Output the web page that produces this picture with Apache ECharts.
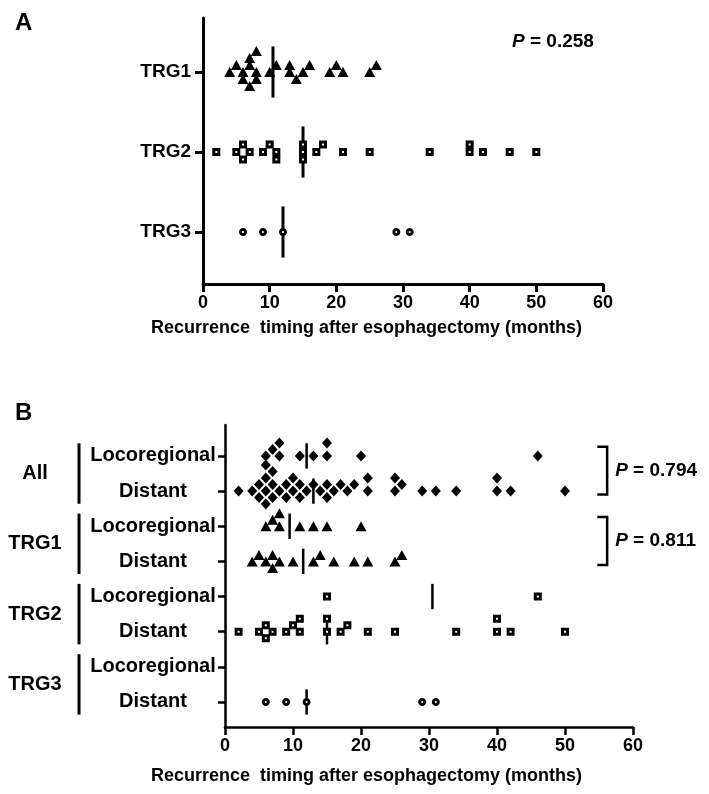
<!DOCTYPE html>
<html><head><meta charset="utf-8">
<script src="https://cdn.jsdelivr.net/npm/echarts@6/dist/echarts.min.js"></script>
<style>html,body{margin:0;padding:0;background:#fff}#c{width:709px;height:794px}</style>
</head><body><div id="c"></div>
<script>
// ---------- data ----------
const xTicks = [0, 10, 20, 30, 40, 50, 60];
const panelARows = ['TRG1', 'TRG2', 'TRG3'];
const groupLabels = ['All', 'TRG1', 'TRG2', 'TRG3'];
const siteLabels = ['Locoregional', 'Distant'];
const trg1Loco = [6, 7, 8, 8, 11, 13, 15, 20];
const trg1Distant = [4, 5, 6, 7, 7, 8, 10, 13, 14, 16, 19, 21, 25, 26];
const trg2Loco = [15, 46];
const trg2Distant = [2, 5, 6, 6, 7, 9, 10, 11, 11, 15, 15, 17, 18, 21, 25, 34, 40, 40, 42, 50];
const trg3Loco = [];
const trg3Distant = [6, 9, 12, 29, 31];
const pValueA = '0.258';
const pValuesB = ['0.794', '0.811'];
const xTitle = 'Recurrence  timing after esophagectomy (months)';

// ---------- derived ----------
const trg1All = trg1Loco.concat(trg1Distant);
const trg2All = trg2Loco.concat(trg2Distant);
const trg3All = trg3Loco.concat(trg3Distant);
const allLoco = trg1Loco.concat(trg2Loco, trg3Loco);
const allDistant = trg1Distant.concat(trg2Distant, trg3Distant);

function median(a) {
  if (!a.length) return null;
  const s = a.slice().sort((p, q) => p - q);
  const m = Math.floor(s.length / 2);
  return s.length % 2 ? s[m] : (s[m - 1] + s[m]) / 2;
}
// simple beeswarm: offsets computed from values (pixel space), returned in axis units
function swarm(values, row, xPx, yPx, step, minDist) {
  const s = values.slice().sort((p, q) => p - q);
  const placed = [], out = [];
  for (const v of s) {
    const x = v * xPx;
    for (let k = 0; k < 60; k++) {
      const off = k === 0 ? 0 : (k % 2 ? -1 : 1) * Math.ceil(k / 2) * step;
      if (placed.every(p => Math.hypot(p.x - x, p.y - off) >= minDist)) {
        placed.push({ x: x, y: off });
        out.push([v, row - off / yPx]);
        break;
      }
    }
  }
  return out;
}

// ---------- layout ----------
const FONT = 'Liberation Sans, Arial, sans-serif';
const gA = { left: 203, top: 18, width: 400, height: 266 };
const gB = { left: 225, top: 425, width: 408, height: 302 };
const yA = { min: -0.65, max: 2.675 };
const yB = { min: -0.712, max: 7.88 };
const pxA = gA.width / 60, pyA = gA.height / (yA.max - yA.min);
const pxB = gB.width / 60, pyB = gB.height / (yB.max - yB.min);

const rowsA = [2, 1, 0];
const rowsB = [7, 6, 5, 4, 3, 2, 1, 0];

const sym = {
  tri: { symbol: 'triangle', symbolSize: [11, 10], itemStyle: { color: '#000', opacity: 1 } },
  sq: { symbol: 'rect', symbolSize: 5, itemStyle: { color: '#fff', borderColor: '#000', borderWidth: 3, opacity: 1 } },
  cir: { symbol: 'circle', symbolSize: 5, itemStyle: { color: '#fff', borderColor: '#000', borderWidth: 3, opacity: 1 } },
  dia: { symbol: 'diamond', symbolSize: [10, 11], itemStyle: { color: '#000', opacity: 1 } }
};
function scat(ax, data, s) {
  return Object.assign({ type: 'scatter', xAxisIndex: ax, yAxisIndex: ax, data: data, z: 5, silent: true }, JSON.parse(JSON.stringify(s)));
}

const series = [];
// Panel A
series.push(scat(0, swarm(trg1All, rowsA[0], pxA, pyA, 7, 7), sym.tri));
series.push(scat(0, swarm(trg2All, rowsA[1], pxA, pyA, 7.5, 7.2), sym.sq));
series.push(scat(0, swarm(trg3All, rowsA[2], pxA, pyA, 7.5, 7.2), sym.cir));
// Panel B
const bSets = [[allLoco, sym.dia], [allDistant, sym.dia], [trg1Loco, sym.tri], [trg1Distant, sym.tri],
  [trg2Loco, sym.sq], [trg2Distant, sym.sq], [trg3Loco, sym.cir], [trg3Distant, sym.cir]];
bSets.forEach((b, i) => { if (b[0].length) series.push(scat(1, swarm(b[0], rowsB[i], pxB, pyB, 6.5, 7), b[1])); });

// medians
const medA = [trg1All, trg2All, trg3All].map((a, i) => [median(a), rowsA[i]]);
const medB = bSets.map((b, i) => [median(b[0]), rowsB[i]]).filter(d => d[0] !== null);
function medSeries(ax, data, half, lw) {
  return {
    type: 'custom', xAxisIndex: ax, yAxisIndex: ax, data: data, z: 2, silent: true,
    renderItem: (p, api) => {
      const a = api.coord([api.value(0), api.value(1) + half]);
      const b = api.coord([api.value(0), api.value(1) - half]);
      return { type: 'line', shape: { x1: a[0], y1: a[1], x2: b[0], y2: b[1] }, style: { stroke: '#000', lineWidth: lw } };
    }
  };
}
series.push(medSeries(0, medA, 0.32, 3));
series.push(medSeries(1, medB, 0.36, 2.5));

// group labels and bars (panel B, left of axis)
const groupData = groupLabels.map((g, i) => [0, (rowsB[2 * i] + rowsB[2 * i + 1]) / 2, i]);
series.push({
  type: 'custom', xAxisIndex: 1, yAxisIndex: 1, data: groupData, clip: false, silent: true,
  renderItem: (p, api) => {
    const c = api.coord([0, api.value(1)]);
    const t = api.coord([0, api.value(1) + 0.86]);
    const b = api.coord([0, api.value(1) - 0.86]);
    return {
      type: 'group', children: [
        { type: 'line', shape: { x1: c[0] - 146, y1: t[1], x2: c[0] - 146, y2: b[1] }, style: { stroke: '#000', lineWidth: 3 } },
        { type: 'text', x: c[0] - 190, y: c[1], style: { text: groupLabels[api.value(2)], font: 'bold 20px ' + FONT, fill: '#000', align: 'center', verticalAlign: 'middle' } }
      ]
    };
  }
});
// brackets with P values (panel B)
const bracketData = pValuesB.map((pv, i) => [56.2, rowsB[2 * i], rowsB[2 * i + 1], i]);
series.push({
  type: 'custom', xAxisIndex: 1, yAxisIndex: 1, data: bracketData, clip: false, silent: true,
  renderItem: (p, api) => {
    const top = api.coord([api.value(0), api.value(1) + 0.26]);
    const bot = api.coord([api.value(0), api.value(2) - 0.1]);
    const left = api.coord([api.value(0) - 1.45, 0])[0];
    const mid = (top[1] + bot[1]) / 2;
    return {
      type: 'group', children: [
        { type: 'polyline', shape: { points: [[left, top[1]], [top[0], top[1]], [top[0], bot[1]], [left, bot[1]]] }, style: { stroke: '#000', lineWidth: 2.5, fill: null } },
        { type: 'text', x: top[0] + 8, y: mid, style: { text: '{i|P} = ' + pValuesB[api.value(3)], rich: { i: { font: 'italic bold 19px ' + FONT } }, font: 'bold 19px ' + FONT, fill: '#000', verticalAlign: 'middle' } }
      ]
    };
  }
});

const labelStyle = { color: '#000', fontWeight: 'bold', fontSize: 18, fontFamily: FONT };
function xAxis(gi, lw) {
  return {
    type: 'value', gridIndex: gi, min: xTicks[0], max: xTicks[xTicks.length - 1], interval: xTicks[1] - xTicks[0],
    axisLine: { show: true, onZero: false, lineStyle: { color: '#000', width: lw } },
    axisTick: { show: true, length: 8, lineStyle: { color: '#000', width: lw } },
    axisLabel: Object.assign({ margin: 10 }, labelStyle), splitLine: { show: false }
  };
}
const option = {
  animation: false,
  backgroundColor: '#fff',
  textStyle: { fontFamily: FONT },
  title: [
    { text: 'A', left: 10, top: 6, textStyle: { fontSize: 24, fontWeight: 'bold', color: '#000', fontFamily: FONT } },
    { text: 'B', left: 10, top: 396, textStyle: { fontSize: 24, fontWeight: 'bold', color: '#000', fontFamily: FONT } },
    { text: xTitle, left: 146, top: 314, textStyle: { fontSize: 18, fontWeight: 'bold', color: '#000', fontFamily: FONT } },
    { text: xTitle, left: 146, top: 762, textStyle: { fontSize: 18, fontWeight: 'bold', color: '#000', fontFamily: FONT } },
    { text: '{i|P} = ' + pValueA, left: 507, top: 27, textStyle: { fontSize: 19, fontWeight: 'bold', color: '#000', fontFamily: FONT, rich: { i: { fontStyle: 'italic', fontWeight: 'bold', fontSize: 19, fontFamily: FONT } } } }
  ],
  grid: [
    Object.assign({ containLabel: false }, gA),
    Object.assign({ containLabel: false }, gB)
  ],
  xAxis: [xAxis(0, 3), xAxis(1, 2.5)],
  yAxis: [
    {
      type: 'value', gridIndex: 0, min: yA.min, max: yA.max,
      axisLine: { show: true, onZero: false, lineStyle: { color: '#000', width: 3 } },
      axisTick: { show: true, length: 8, customValues: rowsA, lineStyle: { color: '#000', width: 3 } },
      axisLabel: Object.assign({ margin: 12, customValues: rowsA, formatter: v => panelARows[rowsA.indexOf(v)] }, labelStyle, { fontSize: 19 }),
      splitLine: { show: false }
    },
    {
      type: 'value', gridIndex: 1, min: yB.min, max: yB.max,
      axisLine: { show: true, onZero: false, lineStyle: { color: '#000', width: 2.5 } },
      axisTick: { show: true, length: 7, customValues: rowsB, lineStyle: { color: '#000', width: 2.5 } },
      axisLabel: Object.assign({ margin: 72, align: 'center', customValues: rowsB, formatter: v => siteLabels[rowsB.indexOf(v) % 2] }, labelStyle, { fontSize: 20 }),
      splitLine: { show: false }
    }
  ],
  series: series
};
const chart = echarts.init(document.getElementById('c'), null, { renderer: 'canvas' });
chart.setOption(option);
</script>
</body></html>
